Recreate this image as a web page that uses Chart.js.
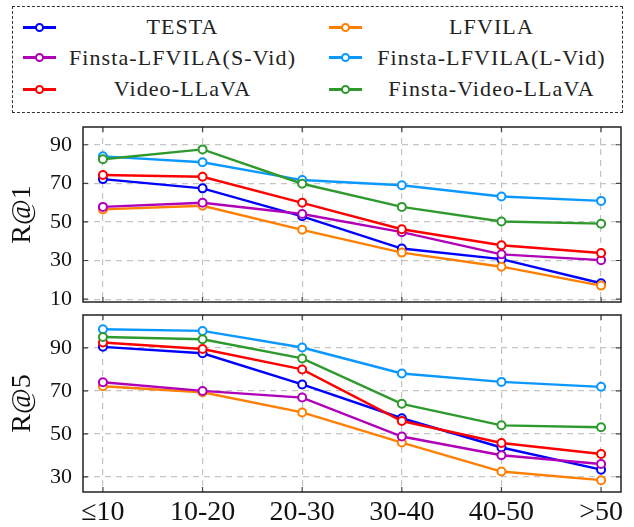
<!DOCTYPE html>
<html>
<head>
<meta charset="utf-8">
<script src="https://cdn.jsdelivr.net/npm/chart.js@4"></script>
<style>
    body { margin: 0; background: #fff; width: 634px; height: 527px; position: relative; overflow: hidden; }
    #legend {
        position: absolute; left: 12px; top: 6px; width: 611px; height: 107px;
        border: 1.5px dashed #333; box-sizing: border-box;
        display: grid; grid-template-columns: 296px 312px; grid-template-rows: 30px 31px 32px;
        padding-top: 5px;
        font-family: 'Liberation Serif', serif; font-size: 22px; letter-spacing: 1.1px; color: #222;
    }
    .item { display: flex; align-items: center; }
    .mark { position: relative; width: 33px; height: 3px; margin-left: 10px; }
    .item.r .mark { margin-left: 20px; }
    .mark i { position: absolute; left: 12px; top: -3px; width: 5px; height: 5px; border-radius: 50%; background: #fff; border: 2px solid; }
    .item span { flex: 1; text-align: center; }
    canvas { position: absolute; left: 0; }
</style>
</head>
<body>
<div id="legend"></div>
<canvas id="r1Chart" style="top:118px"></canvas>
<canvas id="r5Chart" style="top:308px"></canvas>
<script>
const CATS = ['≤10', '10-20', '20-30', '30-40', '40-50', '>50'];
const NAMES = ['TESTA', 'LFVILA', 'Finsta-LFVILA(S-Vid)', 'Finsta-LFVILA(L-Vid)', 'Video-LLaVA', 'Finsta-Video-LLaVA'];
const COLORS = ['#0000ff', '#ff7f00', '#b000b8', '#0a98ff', '#ff0000', '#2e9a2e'];

// R@1
const r1_testa   = [72.2, 67.4, 52.9, 36.2, 30.7, 18.2];
const r1_lfvila  = [56.5, 58.4, 45.9, 34.1, 26.8, 17.0];
const r1_svid    = [57.8, 59.9, 54.1, 44.7, 33.2, 30.2];
const r1_lvid    = [84.0, 80.9, 71.7, 69.0, 63.2, 60.9];
const r1_vllava  = [74.3, 73.4, 59.9, 46.2, 37.9, 33.9];
const r1_fvllava = [82.5, 87.6, 69.8, 57.8, 50.2, 49.1];
const R1_TICKS = [10, 30, 50, 70, 90];

// R@5
const r5_testa   = [90.5, 87.5, 73.0, 57.3, 43.7, 33.4];
const r5_lfvila  = [72.2, 69.4, 60.0, 46.0, 32.5, 28.5];
const r5_svid    = [74.0, 70.0, 66.9, 48.8, 40.1, 36.0];
const r5_lvid    = [98.7, 97.9, 90.2, 78.1, 74.2, 71.9];
const r5_vllava  = [92.5, 89.5, 80.0, 56.0, 45.8, 40.7];
const r5_fvllava = [95.1, 94.0, 85.1, 64.0, 54.0, 53.1];
const R5_TICKS = [30, 50, 70, 90];

const FONT = "'Liberation Serif', serif";

// -------- Legend --------
const legend = document.getElementById('legend');
NAMES.forEach((n, i) => {
    const d = document.createElement('div');
    d.className = 'item' + (i % 2 ? ' r' : '');
    d.innerHTML = `<div class="mark" style="background:${ COLORS[i] }"><i style="border-color:${ COLORS[i] }"></i></div><span>${ n }</span>`;
    legend.appendChild(d);
});

// frame + inner tick marks like pgfplots
const framePlugin = {
    id: 'frame',
    afterDraw(chart) {
        const { ctx, chartArea: a, scales } = chart;
        ctx.save();
        ctx.strokeStyle = '#444';
        ctx.lineWidth = 1.2;
        ctx.beginPath();
        scales.y.ticks.forEach(t => {
            const y = scales.y.getPixelForValue(t.value);
            ctx.moveTo(a.left, y); ctx.lineTo(a.left + 5, y);
            ctx.moveTo(a.right, y); ctx.lineTo(a.right - 5, y);
        });
        scales.x.ticks.forEach(t => {
            const x = scales.x.getPixelForValue(t.value);
            ctx.moveTo(x, a.top); ctx.lineTo(x, a.top + 5);
            ctx.moveTo(x, a.bottom); ctx.lineTo(x, a.bottom - 5);
        });
        ctx.stroke();
        ctx.strokeStyle = '#222';
        ctx.lineWidth = 1.5;
        ctx.strokeRect(a.left, a.top, a.right - a.left, a.bottom - a.top);
        ctx.restore();
    }
};

function makeChart(id, height, title, series, ticks, yMin, yMax, showX, pad) {
    const cv = document.getElementById(id);
    cv.width = 634; cv.height = height;
    cv.style.width = '634px'; cv.style.height = height + 'px';
    return new Chart(cv, {
        type: 'line',
        data: {
            datasets: series.map((s, i) => ({
                label: NAMES[i],
                data: s.map((v, j) => ({ x: j, y: v })),
                borderColor: COLORS[i],
                backgroundColor: '#fff',
                pointBorderColor: COLORS[i],
                pointBackgroundColor: '#fff',
                borderWidth: 2.4,
                pointRadius: 4,
                pointBorderWidth: 2,
                order: 5 - i
            }))
        },
        options: {
            responsive: false,
            animation: false,
            layout: { padding: pad },
            plugins: { legend: { display: false }, tooltip: { enabled: false } },
            scales: {
                x: {
                    type: 'linear', min: -0.2, max: 5.2,
                    afterBuildTicks: s => { s.ticks = CATS.map((c, i) => ({ value: i })); },
                    afterFit: s => {
                        s.height = showX ? 35 : 0;
                        s.paddingLeft = 0; s.paddingRight = 0;
                    },
                    grid: { color: '#c4c4c4', lineWidth: 1.2, drawTicks: false },
                    border: { display: false, dash: [6, 5] },
                    ticks: {
                        display: showX, padding: 4, maxRotation: 0,
                        color: '#111', font: { family: FONT, size: 28 },
                        callback: v => CATS[v]
                    }
                },
                y: {
                    min: yMin, max: yMax,
                    afterBuildTicks: s => { s.ticks = ticks.map(v => ({ value: v })); },
                    afterFit: s => {
                        s.width = 83;
                        s.paddingTop = 0; s.paddingBottom = 0;
                    },
                    grid: { color: '#c4c4c4', lineWidth: 1.2, drawTicks: false },
                    border: { display: false, dash: [6, 5] },
                    ticks: { padding: 11, color: '#111', font: { family: FONT, size: 22 } },
                    title: {
                        display: true, text: title, color: '#111',
                        font: { family: FONT, size: 28 }, padding: { top: 6, bottom: 0 }
                    }
                }
            }
        },
        plugins: [framePlugin]
    });
}

makeChart('r1Chart', 190, 'R@1',
    [r1_testa, r1_lfvila, r1_svid, r1_lvid, r1_vllava, r1_fvllava],
    R1_TICKS, 8.5, 99.2, false, { left: 0, right: 13, top: 9, bottom: 4 });

makeChart('r5Chart', 219, 'R@5',
    [r5_testa, r5_lfvila, r5_svid, r5_lvid, r5_vllava, r5_fvllava],
    R5_TICKS, 23, 105.3, true, { left: 0, right: 13, top: 7, bottom: 0 });
</script>
</body>
</html>
